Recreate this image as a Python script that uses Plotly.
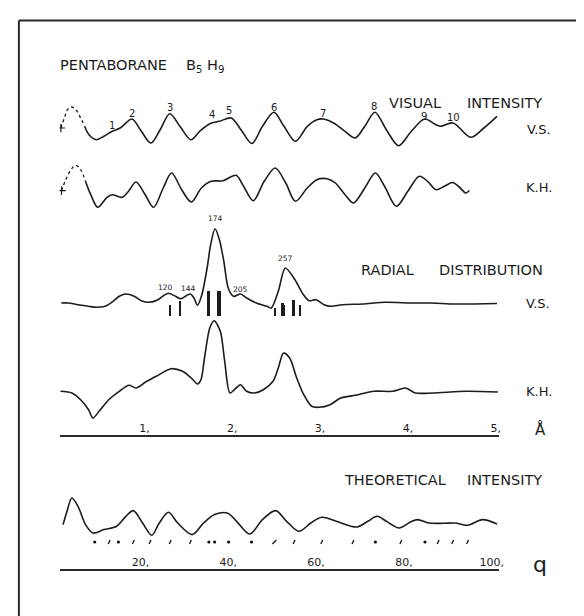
import plotly.graph_objects as go

W, H = 584, 616

# ---------------- data ----------------
# Visual intensity, observer V.S.  (q, relative intensity)
vs_vis_q = [0.3, 1.1, 1.8, 2.7, 3.7, 4.8, 5.7, 6.7, 8.4, 10.1, 12.0, 13.8, 16.5, 18.4, 20.8,
            22.9, 25.1, 27.4, 29.9, 31.9, 34.2, 36.4, 39.1, 41.3, 43.8, 46.2, 48.8, 51.1,
            53.7, 56.4, 58.6, 60.1, 62.4, 65.0, 67.3, 69.5, 71.8, 74.4, 77.2, 80.1, 83.1,
            85.7, 86.8, 89.6, 93.6, 96.6, 99.6]
vs_vis_i = [20, 30, 38.3, 41, 38.3, 30, 21.7, 13.3, 8.3, 11.7, 16.7, 20, 29, 18.3, 5,
            18.3, 34.3, 21.7, 8.3, 16.7, 24.3, 26.7, 30, 18.3, 4.5, 21.7, 35.7, 21.7,
            6.7, 21.7, 28.3, 29, 25, 16.7, 10, 21.7, 35.7, 18.3, 2.3, 16.7, 29,
            23.3, 21.7, 25, 10.7, 20, 31.7]
vs_dashed_n = 7

# Visual intensity, observer K.H.
kh_vis_q = [0.45, 1.4, 2.6, 3.7, 4.8, 5.9, 7.1, 8.7, 10.8, 12.0, 14.2, 15.7, 17.4, 19.5,
            21.4, 23.6, 25.5, 27.8, 30.0, 32.3, 34.5, 37.2, 40.2, 41.7, 44.1, 46.6, 49.1,
            51.5, 53.7, 56.4, 58.6, 60.9, 62.8, 65.0, 66.9, 69.5, 71.9, 74.0, 76.7, 79.3,
            81.9, 83.8, 85.7, 87.6, 89.5, 91.0, 92.5, 93.3]
kh_vis_i = [17.3, 28.3, 38.3, 42.7, 38.3, 26.7, 13.3, 0.7, 10.7, 13.3, 10.7, 16.7, 26, 13.3,
            0.7, 20, 35, 18.3, 6, 20, 26.7, 27.3, 32.7, 23.3, 7.3, 26.7, 40,
            25, 6.7, 20, 28.3, 29.3, 25, 13.3, 5, 20, 35, 21.7, 1.7, 16.7,
            31.7, 26.7, 18.3, 21.7, 25.5, 21, 15, 17.5]
kh_dashed_n = 6

peak_labels = ["1", "2", "3", "4", "5", "6", "7", "8", "9", "10"]
peak_label_q = [11.9, 16.4, 25.1, 34.7, 38.6, 48.8, 59.9, 71.6, 83.0, 89.6]
peak_label_i = [22.7, 34.3, 41, 33.3, 37.7, 41, 35, 41.7, 31.5, 30.7]

# Radial distribution, V.S.  (r in Angstrom)
rd_vs_r = [0.02, 0.10, 0.21, 0.33, 0.42, 0.52, 0.61, 0.68, 0.76, 0.85, 0.93, 1.02, 1.12,
           1.19, 1.24, 1.32, 1.38, 1.45, 1.49, 1.53, 1.57, 1.62, 1.68, 1.72, 1.77, 1.82,
           1.87, 1.92, 1.98, 2.06, 2.13, 2.24, 2.36, 2.41, 2.49, 2.57, 2.68, 2.77, 2.84,
           2.92, 3.01, 3.09, 3.22, 3.45, 3.71, 4.01, 4.24, 4.50, 4.98]
rd_vs_i = [5, 5, 3.3, 1.7, 0.7, 1.7, 6.7, 11.7, 14, 11.7, 7.3, 5.7, 8.3,
           12.7, 14.7, 11.7, 9.3, 12.7, 14, 10, 2.7, 13.3, 40, 63.3, 79.3, 68.3,
           46.7, 20, 11.7, 14, 10, 5, 1.7, 0, 16.7, 40, 28.3, 14, 7.3,
           8.3, 3.3, 1.7, 3.3, 4, 5.7, 5, 5, 4, 4.5]
rd_labels = ["120", "144", "174", "205", "257"]
rd_label_r = [1.21, 1.47, 1.77, 2.06, 2.57]
rd_label_i = [21, 20, 90, 18.3, 49.3]

# Interatomic distance sticks under the V.S. radial curve
stick_r = [1.25, 1.37, 1.69, 1.81, 2.45, 2.53, 2.55, 2.66, 2.73]
stick_h = [11.3, 14.7, 24.7, 24.7, 8, 13, 11, 16.3, 11.3]
stick_w = [0.018, 0.025, 0.04, 0.04, 0.015, 0.035, 0.02, 0.02, 0.018]
stick_base = -8

# Radial distribution, K.H.
rd_kh_r = [0.01, 0.14, 0.24, 0.33, 0.38, 0.45, 0.56, 0.68, 0.79, 0.87, 0.98, 1.10, 1.27,
           1.40, 1.50, 1.57, 1.61, 1.65, 1.71, 1.76, 1.83, 1.88, 1.94, 2.01, 2.06, 2.13,
           2.22, 2.32, 2.43, 2.49, 2.55, 2.62, 2.70, 2.78, 2.87, 2.95, 3.08, 3.20, 3.37,
           3.58, 3.79, 3.94, 4.05, 4.25, 4.63, 4.99]
rd_kh_i = [26.7, 25, 18.3, 8.3, 0, 6.7, 18.3, 26.7, 32.7, 30, 36, 41.7, 49.3,
           46.7, 40, 34, 38.3, 60, 90, 97.3, 86.7, 56.7, 25, 30, 33.3, 26.7,
           25, 28.3, 36.7, 50, 65, 60, 40, 23.3, 11.7, 10.7, 13.3, 20, 22.7,
           26.7, 26.7, 30, 25, 25, 26.7, 26]

# Theoretical intensity
th_q = [0.8, 1.7, 2.8, 4.2, 5.9, 7.6, 10.1, 13.0, 15.1, 16.8, 18.9, 21.0, 22.7, 24.8,
        26.9, 30.2, 32.8, 35.3, 38.2, 40.3, 43.3, 46.2, 49.2, 51.7, 54.5, 57.2, 59.7,
        63.0, 67.7, 70.2, 72.3, 74.4, 77.3, 79.9, 81.5, 84.1, 87.4, 90.0, 92.9, 96.3, 99.6]
th_i = [11.7, 25, 38.3, 30, 11.7, 3.3, 6.7, 10, 20, 25.7, 13.3, 1, 13.3, 24,
        13.3, 1.7, 13.3, 21.7, 23.3, 15, 2.3, 16.7, 25.7, 15, 5, 13.3, 19,
        15, 9.3, 15, 20, 15, 8.3, 14.3, 16.7, 13.3, 13, 13.3, 11, 16.7, 12.3]
# observed ring positions marked under the theoretical curve
th_mark_q = [8.0, 11.3, 13.4, 16.8, 20.6, 25.2, 29.8, 34.0, 35.3, 38.5, 43.7, 48.9, 53.4,
             59.7, 66.8, 71.9, 77.7, 83.2, 86.2, 89.5, 92.9]
th_mark_kind = ["dot", "comma", "dot", "comma", "comma", "comma", "comma", "dot", "dot", "dot",
                "dot", "slash", "comma", "comma", "comma", "dot", "comma", "dot", "comma",
                "comma", "comma"]
th_mark_level = -5.7

q_ticks = [20, 40, 60, 80, 100]
q_ticktext = ["20,", "40,", "60,", "80,", "100,"]
r_ticks = [1, 2, 3, 4, 5]
r_ticktext = ["1,", "2,", "3,", "4,", "5,"]

# ---------------- figure ----------------
INK = "#1c1c1c"
FONT = "DejaVu Sans"


def dom(ref, lo, hi):
    return [1 - (ref - lo) / H, 1 - (ref - hi) / H]


fig = go.Figure()
lw = 1.6

# visual V.S.
fig.add_trace(go.Scatter(x=vs_vis_q[:vs_dashed_n], y=vs_vis_i[:vs_dashed_n], xaxis="x", yaxis="y",
                         mode="lines", line=dict(color=INK, width=1.3, dash="dot", shape="spline")))
fig.add_trace(go.Scatter(x=vs_vis_q[vs_dashed_n - 1:], y=vs_vis_i[vs_dashed_n - 1:], xaxis="x", yaxis="y",
                         mode="lines", line=dict(color=INK, width=lw, shape="spline", smoothing=0.9)))
fig.add_trace(go.Scatter(x=vs_vis_q[:1], y=vs_vis_i[:1], xaxis="x", yaxis="y", mode="markers",
                         marker=dict(symbol="cross-thin", size=6, line=dict(width=1.2, color=INK))))
# visual K.H.
fig.add_trace(go.Scatter(x=kh_vis_q[:kh_dashed_n], y=kh_vis_i[:kh_dashed_n], xaxis="x", yaxis="y2",
                         mode="lines", line=dict(color=INK, width=1.3, dash="dot", shape="spline")))
fig.add_trace(go.Scatter(x=kh_vis_q[kh_dashed_n - 1:], y=kh_vis_i[kh_dashed_n - 1:], xaxis="x", yaxis="y2",
                         mode="lines", line=dict(color=INK, width=lw, shape="spline", smoothing=0.9)))
fig.add_trace(go.Scatter(x=kh_vis_q[:1], y=kh_vis_i[:1], xaxis="x", yaxis="y2", mode="markers",
                         marker=dict(symbol="cross-thin", size=6, line=dict(width=1.2, color=INK))))
# radial V.S.
fig.add_trace(go.Scatter(x=rd_vs_r, y=rd_vs_i, xaxis="x2", yaxis="y3", mode="lines",
                         line=dict(color=INK, width=lw, shape="spline", smoothing=0.8)))
fig.add_trace(go.Bar(x=stick_r, y=stick_h, base=stick_base, width=stick_w, xaxis="x2", yaxis="y3",
                     marker=dict(color=INK, line=dict(width=0))))
# radial K.H.
fig.add_trace(go.Scatter(x=rd_kh_r, y=rd_kh_i, xaxis="x2", yaxis="y4", mode="lines",
                         line=dict(color=INK, width=lw, shape="spline", smoothing=0.8)))
# theoretical
fig.add_trace(go.Scatter(x=th_q, y=th_i, xaxis="x", yaxis="y5", mode="lines",
                         line=dict(color=INK, width=lw, shape="spline", smoothing=0.9)))

# ring-position marks (dots, commas, slash)
kind_style = {
    "dot": dict(symbol="circle", size=3.2, angle=0, lw=0),
    "comma": dict(symbol="line-ns", size=3.2, angle=25, lw=1.3),
    "slash": dict(symbol="line-ne", size=4, angle=0, lw=1.2),
}
for kind, st in kind_style.items():
    qs = [q for q, k in zip(th_mark_q, th_mark_kind) if k == kind]
    fig.add_trace(go.Scatter(x=qs, y=[th_mark_level] * len(qs), xaxis="x", yaxis="y5", mode="markers",
                             marker=dict(symbol=st["symbol"], size=st["size"], angle=st["angle"],
                                         color="#111111", line=dict(width=st["lw"], color="#111111"))))

xdom = [52 / W, 495 / W]
common_x = dict(domain=xdom, showgrid=False, zeroline=False, showline=True, linecolor="#2a2a2a",
                linewidth=2, ticks="", ticklen=0, ticklabelposition="inside", ticklabeloverflow="allow",
                tickfont=dict(family=FONT, size=11, color=INK))
hidden_y = dict(visible=False, showgrid=False, zeroline=False)

fig.update_layout(
    width=W, height=H, margin=dict(l=0, r=0, t=0, b=0),
    paper_bgcolor="white", plot_bgcolor="rgba(0,0,0,0)", showlegend=False, bargap=0,
    xaxis=dict(common_x, range=[0, 100], anchor="y5", tickvals=q_ticks, ticktext=q_ticktext,
               ticklabelshift=-7),
    xaxis2=dict(common_x, range=[0, 5], anchor="y4", tickvals=r_ticks, ticktext=r_ticktext,
                ticklabelshift=-3),
    yaxis=dict(hidden_y, domain=dom(140, -4, 48), range=[-4, 48]),
    yaxis2=dict(hidden_y, domain=dom(200, -4, 46), range=[-4, 46]),
    yaxis3=dict(hidden_y, domain=dom(300, -10, 95), range=[-10, 95]),
    yaxis4=dict(hidden_y, domain=dom(410, -16.7, 100), range=[-16.7, 100]),
    yaxis5=dict(hidden_y, domain=dom(528.3, -32.4, 45), range=[-32.4, 45]),
)

ann = []


def ptext(text, px, py, size=14.5, xanchor="left"):
    ann.append(dict(text=text, x=px / W, y=1 - py / H, xref="paper", yref="paper",
                    xanchor=xanchor, yanchor="middle", showarrow=False,
                    font=dict(family=FONT, size=size, color=INK)))


ptext("PENTABORANE", 50, 57)
ptext("B<sub>5</sub> H<sub>9</sub>", 178, 58)
ptext("VISUAL", 382, 95.5)
ptext("INTENSITY", 541, 95.5, xanchor="right")
ptext("V.S.", 521, 122, size=13)
ptext("K.H.", 520, 180, size=13)
ptext("RADIAL", 354, 262)
ptext("DISTRIBUTION", 542, 262, xanchor="right")
ptext("V.S.", 520, 295, size=13)
ptext("K.H.", 520, 383, size=13)
ptext("Å", 537, 421, size=15, xanchor="center")
ptext("THEORETICAL", 337, 472)
ptext("INTENSITY", 541, 472, xanchor="right")
ptext("q", 537, 556, size=22, xanchor="center")

for t, q, i in zip(peak_labels, peak_label_q, peak_label_i):
    ann.append(dict(text=t, x=q, y=i, xref="x", yref="y", showarrow=False,
                    font=dict(family=FONT, size=10, color=INK)))
for t, r, i in zip(rd_labels, rd_label_r, rd_label_i):
    ann.append(dict(text=t, x=r, y=i, xref="x2", yref="y3", showarrow=False,
                    font=dict(family=FONT, size=7.5, color=INK)))
fig.update_layout(annotations=ann)

# frame lines (left and top border of the plate)
fig.add_shape(type="line", xref="paper", yref="paper", x0=11 / W, x1=11 / W, y0=0, y1=1 - 12.5 / H,
              line=dict(color="#2a2a2a", width=2))
fig.add_shape(type="line", xref="paper", yref="paper", x0=11 / W, x1=1, y0=1 - 12.5 / H, y1=1 - 12.5 / H,
              line=dict(color="#2a2a2a", width=2))

fig.write_html("out.html", config=dict(displayModeBar=False))
